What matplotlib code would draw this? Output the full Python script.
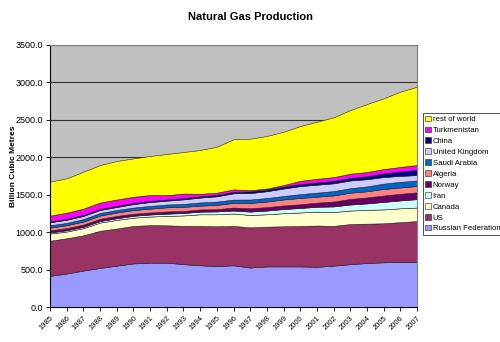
import matplotlib
matplotlib.use('Agg')
import matplotlib.pyplot as plt
import numpy as np

plt.rcParams['font.family'] = ['Liberation Sans', 'DejaVu Sans']

############### data (billion cubic metres)
years = list(range(1985, 2008))

russia = [420, 450, 490, 525, 555, 585, 595, 595, 575, 560, 550, 560, 530, 545, 545, 545, 540, 555, 575, 590, 600, 605, 605]
us = [468, 470, 470, 495, 495, 500, 500, 498, 510, 525, 530, 525, 536, 530, 535, 539, 550, 530, 535, 525, 520, 530, 545]
canada = [95, 90, 95, 110, 115, 110, 115, 125, 140, 155, 160, 165, 165, 165, 175, 180, 185, 185, 180, 185, 185, 185, 180]
iran = [15, 17, 18, 20, 22, 25, 27, 30, 32, 35, 38, 40, 45, 50, 55, 60, 65, 75, 80, 85, 100, 105, 112]
norway = [28, 28, 30, 30, 31, 27, 27, 30, 27, 30, 30, 40, 45, 45, 48, 50, 55, 65, 75, 80, 85, 88, 90]
algeria = [36, 40, 40, 43, 46, 49, 52, 55, 55, 50, 58, 62, 71, 75, 80, 84, 80, 82, 83, 82, 88, 85, 85]
saudi = [32, 30, 33, 35, 33, 34, 36, 37, 39, 43, 43, 44, 45, 47, 46, 50, 54, 57, 60, 65, 71, 74, 74]
uk = [40, 42, 42, 40, 40, 46, 51, 52, 61, 65, 71, 84, 86, 91, 100, 108, 106, 104, 103, 96, 88, 80, 72]
china = [13, 14, 14, 14, 15, 15, 16, 16, 17, 17, 18, 20, 23, 23, 25, 27, 30, 33, 35, 41, 49, 59, 69]
turkmenistan = [75, 80, 83, 85, 85, 82, 78, 56, 60, 33, 30, 32, 16, 12, 21, 43, 48, 49, 55, 54, 57, 60, 65]
rest_of_world = [453, 459, 493, 500, 513, 513, 520, 550, 554, 584, 613, 668, 686, 701, 711, 731, 761, 798, 849, 907, 943, 1004, 1044]

series = [russia, us, canada, iran, norway, algeria, saudi, uk, china, turkmenistan, rest_of_world]
labels = ['Russian Federation', 'US', 'Canada', 'Iran', 'Norway', 'Algeria',
          'Saudi Arabia', 'United Kingdom', 'China', 'Turkmenistan', 'rest of world']
colors = ['#9999FF', '#993366', '#FFFFCC', '#CCFFFF', '#660066', '#FF8080',
          '#0066CC', '#CCCCFF', '#000080', '#FF00FF', '#FFFF00']

############### plotting
fig = plt.figure(figsize=(5.0, 3.42), dpi=100)
ax = fig.add_axes([0.1, 0.1015, 0.734, 0.7675])
ax.set_facecolor('#C0C0C0')
ax.set_axisbelow(True)
ax.yaxis.grid(True, color='#333333', linewidth=0.8)

ax.stackplot(years, *series, colors=colors, labels=labels,
             edgecolor='#222222', linewidth=0.4, zorder=2)

ax.set_xlim(1985, 2007)
ax.set_ylim(0, 3500)
ax.set_yticks(np.arange(0, 3501, 500))
ax.set_yticklabels(['%.1f' % v for v in np.arange(0, 3501, 500)], fontsize=6.5)
ax.set_xticks(years)
ax.set_xticklabels([str(y) for y in years], rotation=45, ha='right',
                   rotation_mode='anchor', fontsize=5.5)
ax.tick_params(axis='both', length=3, width=0.6, direction='out', pad=2)
for side in ['top', 'right']:
    ax.spines[side].set_color('#808080')
for side in ['left', 'bottom']:
    ax.spines[side].set_color('black')
    ax.spines[side].set_linewidth(0.8)

fig.text(0.028, 0.515, 'Billion Cubic Metres', rotation=90, ha='center',
         va='center', fontsize=6, fontweight='bold')
fig.text(0.5, 0.95, 'Natural Gas Production', ha='center', va='center',
         fontsize=8, fontweight='bold')

handles, labs = ax.get_legend_handles_labels()
leg = fig.legend(handles[::-1], labs[::-1], loc='upper left',
                 bbox_to_anchor=(0.845, 0.67), fontsize=5.6,
                 frameon=True, fancybox=False, edgecolor='black',
                 handlelength=0.7, handleheight=0.7, handletextpad=0.25,
                 labelspacing=0.45, borderpad=0.35, borderaxespad=0)
leg.get_frame().set_linewidth(0.6)

plt.savefig('out.png', dpi=100)
